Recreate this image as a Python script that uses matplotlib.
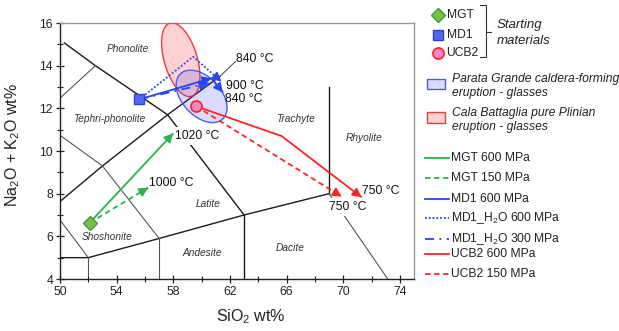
import numpy as np
import matplotlib
matplotlib.use('Agg')
import matplotlib.pyplot as plt
from matplotlib.patches import Rectangle
from matplotlib.ticker import MultipleLocator

plt.rcParams['font.family'] = ['Liberation Sans', 'DejaVu Sans']
plt.rcParams['mathtext.fontset'] = 'custom'
plt.rcParams['mathtext.rm'] = 'Liberation Sans'
plt.rcParams['mathtext.it'] = 'Liberation Sans:italic'

# TAS field boundaries (SiO2, Na2O+K2O)
tas_bold = [
    [(49.4, 7.3), (53, 9.3), (57.6, 11.7), (61.3, 13.5)],
    [(50.3, 15.07), (52.5, 14), (57.6, 11.7), (63, 7)],
    [(45, 5), (52, 5), (57, 5.9), (63, 7), (69, 8)],
    [(63, 0), (63, 7)],
    [(69, 8), (69, 13)],
]
tas_thin = [
    [(48.4, 11.5), (52.5, 14)],
    [(48.4, 11.5), (53, 9.3), (57, 5.9)],
    [(49.4, 7.3), (52, 5)],
    [(52, 0), (52, 5)],
    [(57, 0), (57, 5.9)],
    [(69, 8), (77.3, 0)],
]
field_names = ['Phonolite', 'Tephri-phonolite', 'Trachyte', 'Rhyolite',
               'Latite', 'Shoshonite', 'Andesite', 'Dacite']
field_x = [54.8, 53.5, 66.65, 71.5, 60.45, 53.35, 60.05, 66.25]
field_y = [14.8, 11.5, 11.5, 10.6, 7.5, 5.95, 5.2, 5.45]

# starting materials
mgt_start = (52.1, 6.64)
md1_start = (55.6, 12.42)
ucb2_start = (59.6, 12.1)

# experimental trends
mgt600_x = [52.1, 58.0]
mgt600_y = [6.64, 10.83]
mgt150_x = [52.1, 56.23]
mgt150_y = [6.64, 8.28]
md1_600_x = [55.6, 60.7, 61.5]
md1_600_y = [12.42, 13.41, 12.75]
md1h2o600_x = [55.6, 59.4, 61.4]
md1h2o600_y = [12.42, 14.42, 13.25]
md1h2o300_x = [55.6, 60.5]
md1h2o300_y = [12.42, 13.18]
ucb2_600_x = [59.6, 65.65, 71.3]
ucb2_600_y = [12.1, 10.7, 7.83]
ucb2_150_x = [59.6, 69.9]
ucb2_150_y = [12.1, 7.86]

# glass fields (centre, two conjugate semi-axes)
pg_center = (60.0, 12.56)
pg_axis1 = (1.49, -1.06)
pg_axis2 = (-1.0, -0.62)
cb_center = (58.53, 14.28)
cb_axis1 = (-0.76, 1.72)
cb_axis2 = (1.12, 0.21)

temp_labels = ['1020 °C', '1000 °C', '840 °C', '900 °C', '840 °C', '750 °C', '750 °C']
temp_x = [58.1, 56.3, 62.45, 61.7, 61.65, 71.35, 69.0]
temp_y = [10.7, 8.5, 14.3, 13.05, 12.45, 8.14, 7.36]
temp_masked = [True, False, False, False, False, False, True]

legend_lines = ['MGT 600 MPa', 'MGT 150 MPa', 'MD1 600 MPa', 'MD1_H$_2$O 600 MPa',
                'MD1_H$_2$O 300 MPa', 'UCB2 600 MPa', 'UCB2 150 MPa']

GREEN = '#2cb34a'
BLUE = '#2446f5'
RED = '#ff2424'
DASH = (0, (3, 2))
DOT = (0, (1, 1.1))
DASHDOT = (0, (5, 3, 1, 3))

fig = plt.figure(figsize=(6.19, 3.31), dpi=100)
ax = fig.add_axes([60 / 619, 1 - 279 / 331, 354 / 619, 256 / 331])
ax.set_xlim(50, 75)
ax.set_ylim(4, 16)

for seg in tas_bold:
    xs, ys = zip(*seg)
    ax.plot(xs, ys, color='#1a1a1a', lw=1.0, zorder=1)
for seg in tas_thin:
    xs, ys = zip(*seg)
    ax.plot(xs, ys, color='#555555', lw=0.8, zorder=1)
# leader for the 840 °C label
ax.plot([61.3, 62.4], [13.5, 14.2], color='#444444', lw=0.7, zorder=1)

for name, x, y in zip(field_names, field_x, field_y):
    ax.text(x, y, name, fontsize=7.3, style='italic', color='#333333',
            ha='center', va='center', zorder=2)


def ellipse(center, a1, a2):
    t = np.linspace(0, 2 * np.pi, 200)
    xs = center[0] + a1[0] * np.cos(t) + a2[0] * np.sin(t)
    ys = center[1] + a1[1] * np.cos(t) + a2[1] * np.sin(t)
    return xs, ys


ex, ey = ellipse(cb_center, cb_axis1, cb_axis2)
ax.fill(ex, ey, facecolor=(1.0, 0.1, 0.1, 0.2), edgecolor='#f03a3a', lw=1.0, zorder=3)
ex, ey = ellipse(pg_center, pg_axis1, pg_axis2)
ax.fill(ex, ey, facecolor=(0.2, 0.25, 1.0, 0.18), edgecolor='#4a5cf0', lw=1.0, zorder=3)


def arrow_path(xs, ys, color, ls, heads):
    ax.plot(xs, ys, color=color, lw=1.3, linestyle=ls, zorder=5,
            dash_capstyle='butt', solid_capstyle='butt')
    inv = ax.transData.inverted()
    for i in heads:
        p0 = ax.transData.transform((xs[i - 1], ys[i - 1]))
        p1 = ax.transData.transform((xs[i], ys[i]))
        d = (p1 - p0) / np.hypot(*(p1 - p0))
        back = inv.transform(p1 - d * 8)
        ax.annotate('', xy=(xs[i], ys[i]), xytext=back,
                    arrowprops=dict(arrowstyle='-|>,head_length=0.55,head_width=0.28',
                                    mutation_scale=10, color=color, lw=1.1,
                                    shrinkA=0, shrinkB=0), zorder=6)


arrow_path(mgt600_x, mgt600_y, GREEN, '-', [1])
arrow_path(mgt150_x, mgt150_y, GREEN, DASH, [1])
arrow_path(md1h2o600_x, md1h2o600_y, BLUE, DOT, [2])
arrow_path(md1h2o300_x, md1h2o300_y, BLUE, DASHDOT, [1])
arrow_path(md1_600_x, md1_600_y, BLUE, '-', [1, 2])
arrow_path(ucb2_150_x, ucb2_150_y, RED, DASH, [1])
arrow_path(ucb2_600_x, ucb2_600_y, RED, '-', [2])

ax.plot(*mgt_start, marker='D', ms=7, mfc='#79c143', mec='#3c9c3c', mew=1, zorder=7)
ax.plot(*md1_start, marker='s', ms=6.5, mfc='#5468f0', mec='#2a40e6', mew=1, zorder=7)
ax.plot(*ucb2_start, marker='o', ms=8, mfc='#ff84c4', mec='#ff2020', mew=1.2, zorder=7)

for lab, x, y, m in zip(temp_labels, temp_x, temp_y, temp_masked):
    kw = {}
    if m:
        kw['bbox'] = dict(boxstyle='square,pad=0.25', fc='white', ec='none')
    ax.text(x, y, lab, fontsize=8.8, ha='left', va='center', color='#111111',
            zorder=4, **kw)

ax.set_xticks(np.arange(50, 75, 4))
ax.set_yticks(np.arange(4, 17, 2))
ax.xaxis.set_minor_locator(MultipleLocator(2))
ax.yaxis.set_minor_locator(MultipleLocator(1))
ax.tick_params(which='major', direction='inout', length=6, width=0.9,
               labelsize=8.8, pad=2, colors='#222222')
ax.tick_params(which='minor', direction='inout', length=4, width=0.8, colors='#222222')
for side in ['left', 'bottom']:
    ax.spines[side].set_color('#222222')
    ax.spines[side].set_linewidth(1.0)
for side in ['top', 'right']:
    ax.spines[side].set_color('#999999')
    ax.spines[side].set_linewidth(1.0)

ax.set_xlabel('SiO$_2$ wt%', fontsize=11.5, color='#222222')
ax.xaxis.set_label_coords(0.539, -0.112)
ax.set_ylabel('Na$_2$O + K$_2$O wt%', fontsize=11.5, color='#222222')
ax.yaxis.set_label_coords(-0.108, 0.523)

# legend drawn in figure pixel coordinates
lg = fig.add_axes([0, 0, 1, 1])
lg.set_xlim(0, 619)
lg.set_ylim(331, 0)
lg.axis('off')
lg.patch.set_visible(False)

lg.plot(438, 14.7, marker='D', ms=7, mfc='#79c143', mec='#3c9c3c')
lg.plot(438, 34.7, marker='s', ms=6.5, mfc='#5468f0', mec='#2a40e6')
lg.plot(438, 53.3, marker='o', ms=8, mfc='#ff84c4', mec='#ff2020', mew=1.2)
for lab, y in zip(['MGT', 'MD1', 'UCB2'], [14.7, 34.7, 53.3]):
    lg.text(446.5, y, lab, fontsize=8.7, va='center', ha='left', color='#222222')
lg.plot([480, 486, 486, 480], [4.7, 4.7, 57.3, 57.3], color='#333333', lw=0.8)
lg.plot([486, 491], [31.5, 31.5], color='#333333', lw=0.8)
lg.text(496.5, 25, 'Starting', fontsize=9.5, style='italic', va='center', color='#222222')
lg.text(496.5, 40.7, 'materials', fontsize=9.5, style='italic', va='center', color='#222222')

lg.add_patch(Rectangle((427.3, 79), 18, 10.3, fc=(0.2, 0.25, 1.0, 0.18), ec='#4a5cf0', lw=1))
lg.add_patch(Rectangle((427.3, 112.3), 18, 11, fc=(1.0, 0.1, 0.1, 0.2), ec='#f03a3a', lw=1))
lg.text(451.7, 79, 'Parata Grande caldera-forming', fontsize=8.7, style='italic',
        va='center', color='#222222')
lg.text(451.7, 93.3, 'eruption - glasses', fontsize=8.7, style='italic',
        va='center', color='#222222')
lg.text(451.7, 112.7, 'Cala Battaglia pure Plinian', fontsize=8.7, style='italic',
        va='center', color='#222222')
lg.text(451.7, 127, 'eruption - glasses', fontsize=8.7, style='italic',
        va='center', color='#222222')

leg_colors = [GREEN, GREEN, BLUE, BLUE, BLUE, RED, RED]
leg_styles = ['-', DASH, '-', DOT, DASHDOT, '-', DASH]
leg_y = [158.3, 178.3, 199, 218.3, 239, 254, 274]
for lab, c, ls, y in zip(legend_lines, leg_colors, leg_styles, leg_y):
    lg.plot([425, 449.3], [y, y], color=c, linestyle=ls, lw=1.3)
    lg.text(450.7, y, lab, fontsize=8.7, va='center', ha='left', color='#222222')

fig.savefig('out.png', dpi=100)
